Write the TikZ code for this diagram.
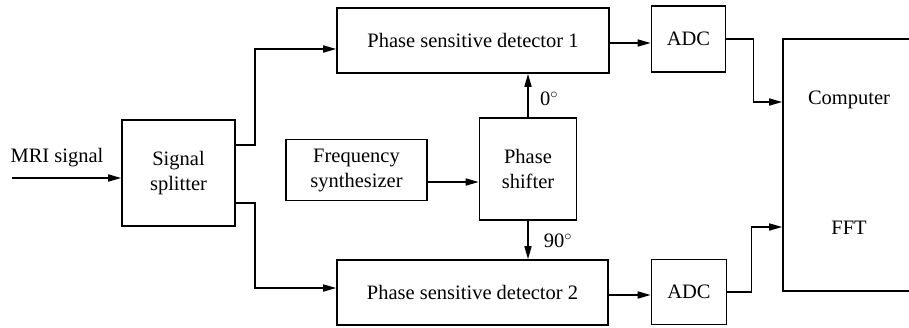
\documentclass[tikz,border=0pt]{standalone}
\usepackage{fontspec}
\setmainfont{Liberation Serif}
\usetikzlibrary{arrows.meta,calc}
\begin{document}
\begin{tikzpicture}[x=1pt,y=-1pt,
  font=\fontsize{20.5}{25}\selectfont,
  box/.style={draw, line width=1.6pt, inner sep=0pt, align=center},
  arr/.style={line width=1.6pt, -{Triangle[length=13pt,width=7pt]}},
  lab/.style={inner sep=0pt, anchor=center}]
\useasboundingbox (0,0) rectangle (909,327);
\clip (0,0) rectangle (909,327);
% boxes
\node[box, minimum width=113pt, minimum height=106pt] (split) at (178.5,173) {Signal\\splitter};
\node[box, minimum width=272pt, minimum height=65pt] (psd1) at (473,40.5) {Phase sensitive detector 1};
\node[box, minimum width=271pt, minimum height=65pt] (psd2) at (472.5,292.5) {Phase sensitive detector 2};
\node[box, minimum width=141pt, minimum height=61pt] (freq) at (356.5,170) {Frequency\\synthesizer};
\node[box, minimum width=97pt, minimum height=102pt] (shift) at (528,169) {Phase\\shifter};
\node[box, minimum width=74pt, minimum height=66pt] (adc1) at (688.5,39) {ADC};
\node[box, minimum width=75pt, minimum height=65pt] (adc2) at (689,292) {ADC};
\node[box, minimum width=150pt, minimum height=252pt] (comp) at (858,165) {};
\node[lab] (ctext) at (849,100) {Computer};
\node[lab] (fft) at (849,228) {FFT};
% input
\coordinate (in) at (12,178);
\node[lab] (mri) at (57,158) {MRI signal};
\draw[arr] (in) -- (in -| split.west);
% splitter outputs
\draw[arr] ([yshift=28pt]split.east) -- ++(19,0) |- ([yshift=-8.5pt]psd1.west);
\draw[arr] ([yshift=-30pt]split.east) -- ++(19,0) |- ([yshift=4.5pt]psd2.west);
% synthesizer to shifter
\draw[arr] ([yshift=-12pt]freq.east) -- ([yshift=-12pt]freq.east -| shift.west);
% shifter to detectors
\draw[arr] (shift.north) -- (psd1.south -| shift.north);
\node[lab] (deg0) at (549,99) {0$^\circ$};
\draw[arr] (shift.south) -- (psd2.north -| shift.south);
\node[lab] (deg90) at (558,241) {90$^\circ$};
% detectors to ADCs
\draw[arr] ([yshift=-2.5pt]psd1.east) -- ([yshift=-2.5pt]psd1.east -| adc1.west);
\draw[arr] ([yshift=-2.5pt]psd2.east) -- ([yshift=-2.5pt]psd2.east -| adc2.west);
% ADCs to computer
\coordinate (c1) at (783,102);
\coordinate (c2) at (783,227);
\draw[arr] (adc1.east) -- ++(27,0) |- (c1 -| comp.west);
\draw[arr] (adc2.east) -- ++(24,0) |- (c2 -| comp.west);
\end{tikzpicture}
\end{document}
